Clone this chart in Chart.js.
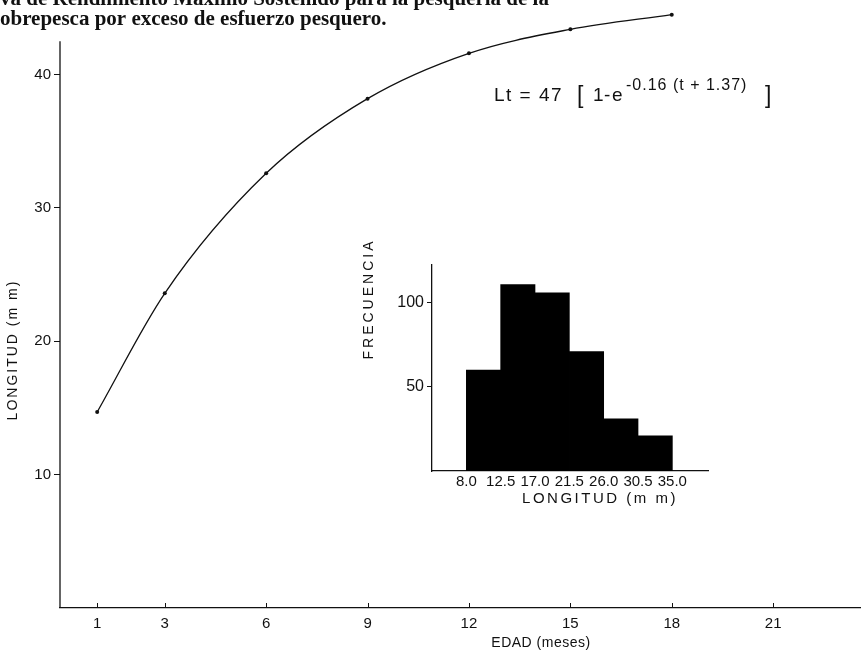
<!DOCTYPE html>
<html>
<head>
<meta charset="utf-8">
<script src="https://cdn.jsdelivr.net/npm/chart.js@4/dist/chart.umd.min.js"></script>
<style>
  body { margin: 0; background: #fff; }
  #wrap { position: relative; width: 864px; height: 651px; }
  #principal { position: absolute; left: 0; top: 0; }
  #recuadro { position: absolute; left: 340px; top: 225px; }
</style>
</head>
<body>
<div id="wrap">
  <canvas id="principal" width="864" height="651"></canvas>
  <canvas id="recuadro" width="380" height="290"></canvas>
</div>
<script>
// ===== Datos curva de crecimiento =====
const edadMeses = [1, 3, 6, 9, 12, 15, 18];
const longitudMm = [14.7, 23.6, 32.6, 38.2, 41.6, 43.4, 44.5];
const ticksEdad = [1, 3, 6, 9, 12, 15, 18, 21];
const ticksLongitud = [10, 20, 30, 40];
const topeEjeY = 42.5; // donde termina la linea del eje vertical

// ===== Datos histograma (recuadro) =====
const clasesLongitud = [8.0, 12.5, 17.0, 21.5, 26.0, 30.5, 35.0];
const etiquetasClases = ["8.0", "12.5", "17.0", "21.5", "26.0", "30.5", "35.0"];
const frecuencia = [60, 111, 106, 71, 31, 21];
const ticksFrecuencia = [50, 100];

const NEGRO = "#111";
const fuente = "Liberation Sans";

// texto con espaciado entre letras
function texto(ctx, s, x, y, font, spacing, align, rot) {
  ctx.save();
  ctx.font = font;
  ctx.fillStyle = NEGRO;
  ctx.letterSpacing = spacing || "0px";
  ctx.textAlign = align || "left";
  ctx.textBaseline = "alphabetic";
  ctx.translate(x, y);
  if (rot) ctx.rotate(rot);
  ctx.fillText(s, 0, 0);
  ctx.restore();
}

// sin relleno extra por las etiquetas extremas
function sinRelleno(s) {
  s.paddingTop = 0; s.paddingBottom = 0;
  s.paddingLeft = 0; s.paddingRight = 0;
}

const decoracionPrincipal = {
  id: "decoracionPrincipal",
  afterDraw(chart) {
    const ctx = chart.ctx;
    const xs = chart.scales.x;
    const ys = chart.scales.y;
    const y0 = chart.chartArea.bottom;
    const x0 = chart.chartArea.left;
    ctx.save();
    ctx.strokeStyle = NEGRO;
    // eje vertical hasta 42.5
    ctx.lineWidth = 1.3;
    ctx.beginPath();
    ctx.moveTo(x0, ys.getPixelForValue(0));
    ctx.lineTo(x0, ys.getPixelForValue(topeEjeY));
    ctx.stroke();
    // marcas hacia adentro en el eje x
    ctx.lineWidth = 1;
    ticksEdad.forEach(v => {
      const px = Math.round(xs.getPixelForValue(v)) + 0.5;
      ctx.beginPath();
      ctx.moveTo(px, y0);
      ctx.lineTo(px, y0 - 5);
      ctx.stroke();
    });
    ctx.restore();

    // titulo (recortado como en el original)
    const tit = "bold 21px 'Liberation Serif'";
    ctx.save();
    ctx.font = tit;
    const off1 = ctx.measureText("Cur").width;
    const off2 = ctx.measureText("s").width;
    ctx.restore();
    texto(ctx, "Curva de Rendimiento Máximo Sostenido para la pesquería de la", -off1, 5, tit);
    texto(ctx, "sobrepesca por exceso de esfuerzo pesquero.", -off2, 25, tit);

    // titulos de ejes
    texto(ctx, "LONGITUD (m m)", 17, 350, "14px " + fuente, "2px", "center", -Math.PI / 2);
    texto(ctx, "EDAD (meses)", 541, 647, "14px " + fuente, "0.5px", "center");

    // ecuacion
    const f = "19px " + fuente;
    texto(ctx, "Lt = 47", 494, 101, f, "1.5px");
    texto(ctx, "[", 577, 103, "23px " + fuente, "0px");
    texto(ctx, "1", 593, 101, f, "0px");
    texto(ctx, "-", 604, 101, f, "0px");
    texto(ctx, "e", 612, 101, f, "0px");
    texto(ctx, "-0.16 (t + 1.37)", 626, 90, "16px " + fuente, "1px");
    texto(ctx, "]", 765, 103, "23px " + fuente, "0px");
  }
};

new Chart(document.getElementById("principal"), {
  type: "line",
  data: {
    datasets: [{
      data: edadMeses.map((m, i) => ({ x: m, y: longitudMm[i] })),
      borderColor: NEGRO,
      borderWidth: 1.3,
      pointRadius: 2,
      pointBackgroundColor: NEGRO,
      pointBorderWidth: 0,
      cubicInterpolationMode: "monotone",
      clip: false,
      fill: false
    }]
  },
  options: {
    responsive: false,
    animation: false,
    layout: { padding: { top: 0, left: 0, right: 0, bottom: 0 } },
    plugins: { legend: { display: false }, tooltip: { enabled: false } },
    scales: {
      x: {
        type: "linear",
        min: -0.1,
        max: 23.57,
        afterFit: s => { s.height = 43; sinRelleno(s); },
        afterBuildTicks: s => { s.ticks = ticksEdad.map(v => ({ value: v })); },
        border: { color: NEGRO, width: 1.3 },
        grid: { display: false, drawTicks: false },
        ticks: {
          autoSkip: false, maxRotation: 0, padding: 7,
          color: NEGRO, font: { family: fuente, size: 15 },
          callback: v => String(v)
        }
      },
      y: {
        type: "linear",
        min: 0,
        max: 45.3,
        afterFit: s => { s.width = 60; sinRelleno(s); },
        afterBuildTicks: s => { s.ticks = ticksLongitud.map(v => ({ value: v })); },
        border: { display: false },
        grid: { drawOnChartArea: false, drawTicks: true, tickLength: 6, color: NEGRO },
        ticks: {
          padding: 3, color: NEGRO, font: { family: fuente, size: 15 },
          callback: v => String(v)
        }
      }
    }
  },
  plugins: [decoracionPrincipal]
});

// ===== Histograma =====
const decoracionRecuadro = {
  id: "decoracionRecuadro",
  afterDraw(chart) {
    const ctx = chart.ctx;
    texto(ctx, "FRECUENCIA", 33, 74, "14px " + fuente, "3px", "center", -Math.PI / 2);
    texto(ctx, "LONGITUD (m m)", 260, 278, "15px " + fuente, "2.5px", "center");
  }
};

const centrosClases = frecuencia.map((_, i) => (clasesLongitud[i] + clasesLongitud[i + 1]) / 2);

new Chart(document.getElementById("recuadro"), {
  type: "bar",
  data: {
    datasets: [{
      data: centrosClases.map((c, i) => ({ x: c, y: frecuencia[i] })),
      backgroundColor: "#000",
      borderWidth: 0,
      barPercentage: 1,
      categoryPercentage: 1
    }]
  },
  options: {
    responsive: false,
    animation: false,
    layout: { padding: { top: 40, left: 0, right: 12, bottom: 0 } },
    plugins: { legend: { display: false }, tooltip: { enabled: false } },
    scales: {
      x: {
        type: "linear",
        offset: false,
        min: 3.5,
        max: 39.67,
        afterFit: s => { s.height = 44; sinRelleno(s); },
        afterBuildTicks: s => { s.ticks = clasesLongitud.map(v => ({ value: v })); },
        border: { color: NEGRO, width: 1.3 },
        grid: { display: false, drawTicks: false, offset: false },
        ticks: {
          autoSkip: false, maxRotation: 0, padding: 2,
          color: NEGRO, font: { family: fuente, size: 15 },
          callback: (v, i) => etiquetasClases[i]
        }
      },
      y: {
        type: "linear",
        min: 0,
        max: 122.6,
        afterFit: s => { s.width = 92; sinRelleno(s); },
        afterBuildTicks: s => { s.ticks = ticksFrecuencia.map(v => ({ value: v })); },
        border: { color: NEGRO, width: 1.3 },
        grid: { drawOnChartArea: false, drawTicks: true, tickLength: 5, color: NEGRO },
        ticks: {
          padding: 3, color: NEGRO, font: { family: fuente, size: 16 },
          callback: v => String(v)
        }
      }
    }
  },
  plugins: [decoracionRecuadro]
});
</script>
</body>
</html>
